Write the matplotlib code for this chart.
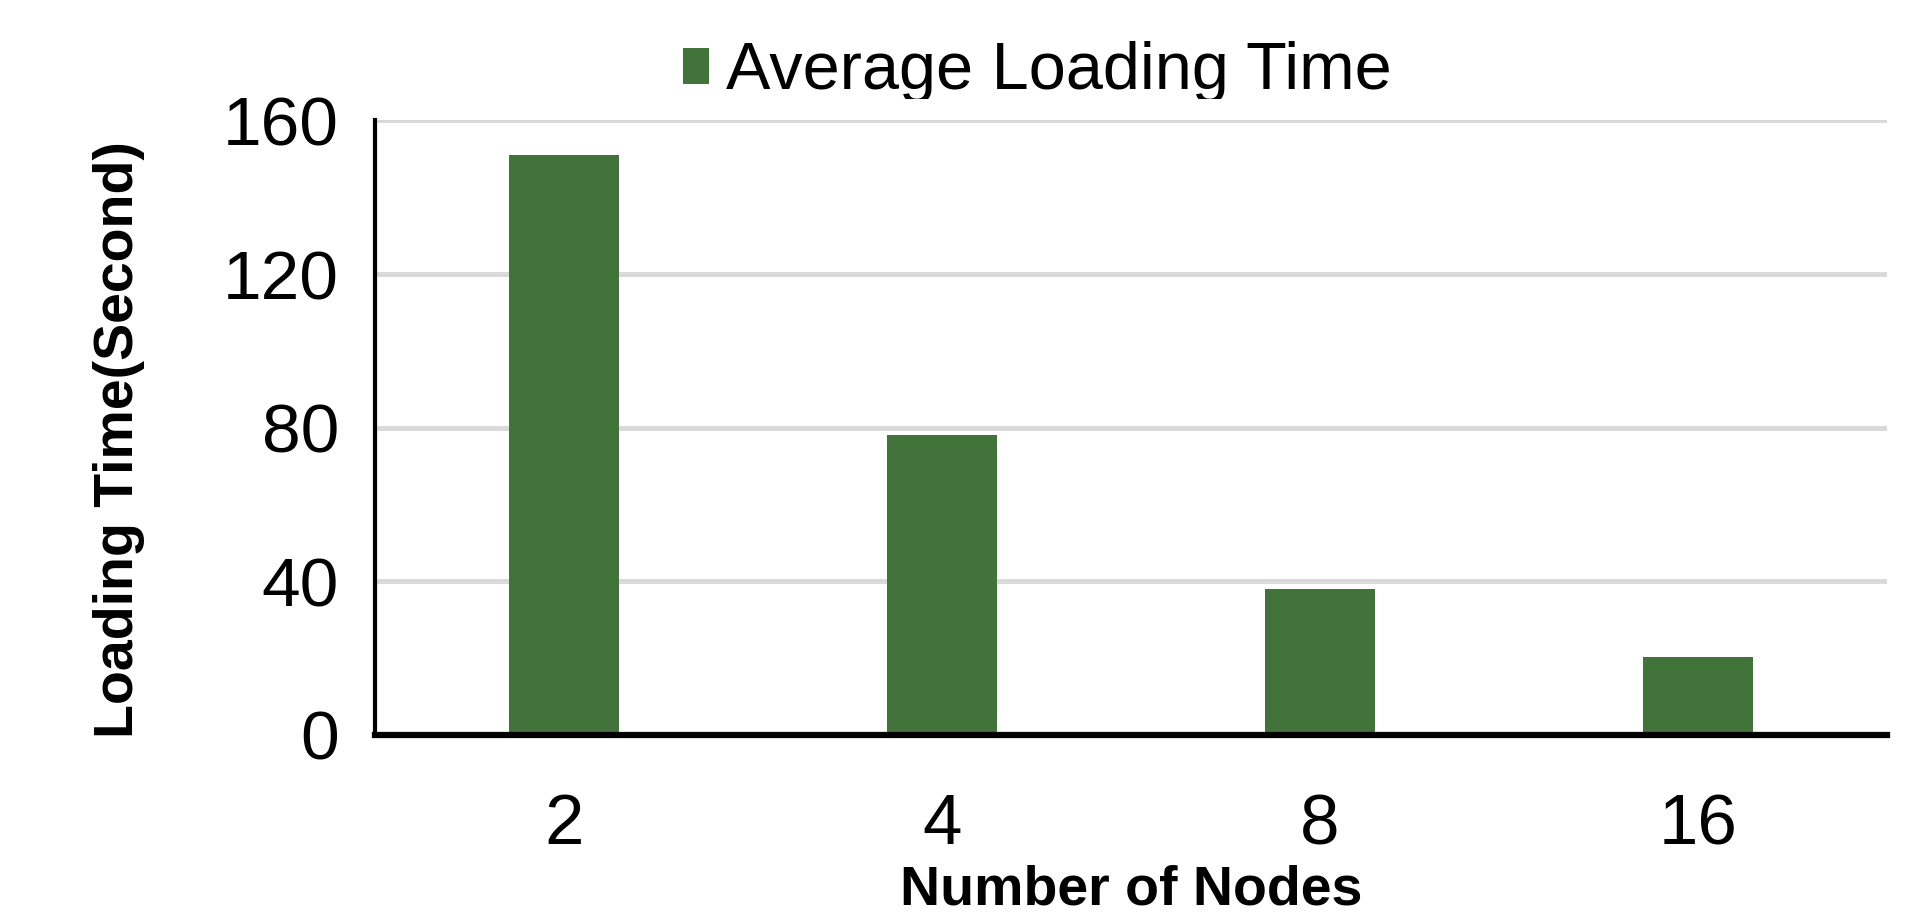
import matplotlib.pyplot as plt
from matplotlib.transforms import Bbox, TransformedBbox

nodes = ['2', '4', '8', '16']
loading_time = [151, 78, 38, 20.4]
yticks = [0, 40, 80, 120, 160]

plt.rcParams['font.family'] = ['Liberation Sans', 'DejaVu Sans']

fig = plt.figure(figsize = (19.28, 9.21), dpi = 100)
ax = fig.add_axes([0.1945, 0.202, 0.7842, 0.6672])

bars = ax.bar(range(len(nodes)), loading_time, width = 0.29, color = '#41733a',
              label = 'Average Loading Time', zorder = 3)

ax.set_xlim(-0.5, len(nodes) - 0.5)
ax.set_ylim(0, 160)
ax.set_yticks(yticks)
ax.set_xticks(range(len(nodes)))
ax.set_xticklabels(nodes)
ax.yaxis.grid(True, color = '#d9d9d9', linewidth = 3.5, zorder = 0)
ax.set_axisbelow(True)

for s in ['top', 'right']:
    ax.spines[s].set_visible(False)
ax.spines['left'].set_linewidth(3)
ax.spines['bottom'].set_linewidth(4.5)
ax.spines['left'].set_zorder(4)
ax.spines['bottom'].set_zorder(4)

ax.tick_params(axis = 'y', length = 0, pad = 26, labelsize = 50)
ax.tick_params(axis = 'x', length = 0, pad = 42, labelsize = 51)

ax.set_xlabel('Number of Nodes', fontsize = 40, fontweight = 'bold', labelpad = 4)
ax.set_ylabel('Loading Time(Second)', fontsize = 40, fontweight = 'bold', labelpad = 58)
ax.yaxis.set_label_coords(-0.152, 0.48)

leg = ax.legend(loc = 'upper left', bbox_to_anchor = (0.354, 0.955), bbox_transform = fig.transFigure,
                frameon = False, fontsize = 48, handlelength = 0.4, handleheight = 0.45,
                handletextpad = 0.25, borderpad = 0, borderaxespad = 0)

# the legend text is cut off at the bottom in the original
clip = TransformedBbox(Bbox([[0, 1 - 99 / 921], [1, 1]]), fig.transFigure)
for t in leg.get_texts():
    t.set_clip_box(clip)
    t.set_clip_on(True)

fig.savefig('out.png', dpi = 100)
